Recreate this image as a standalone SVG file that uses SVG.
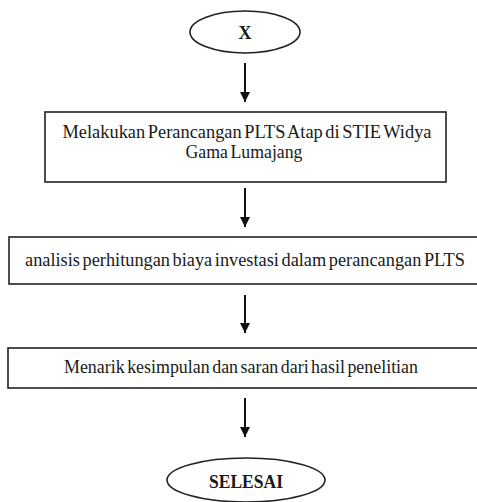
<svg xmlns="http://www.w3.org/2000/svg" width="477" height="502" viewBox="0 0 477 502">
<defs>
<style>
.shape{fill:#fff;stroke:#222;stroke-width:1.6}
.t{font-family:"Liberation Serif","Times New Roman",serif;font-size:18px;fill:#1a1a1a;text-anchor:middle;word-spacing:-2px}
.b{font-weight:bold}
.conn{stroke:#111;stroke-width:2;fill:none}
</style>
<marker id="ah" viewBox="0 0 10 10" refX="10" refY="5" markerWidth="5" markerHeight="5" markerUnits="strokeWidth" orient="auto">
<path d="M0,0 L10,5 L0,10 z" fill="#111"/>
</marker>
</defs>
<rect width="477" height="502" fill="#fff"/>
<g id="connectors">
<line class="conn" x1="245" y1="63" x2="245" y2="102" marker-end="url(#ah)"/>
<line class="conn" x1="245" y1="188" x2="245" y2="227" marker-end="url(#ah)"/>
<line class="conn" x1="245" y1="295" x2="245" y2="333" marker-end="url(#ah)"/>
<line class="conn" x1="245" y1="398" x2="245" y2="437" marker-end="url(#ah)"/>
</g>
<g id="start">
<ellipse class="shape" cx="245" cy="32" rx="55" ry="21"/>
<text class="t b" x="245" y="39" font-size="19">X</text>
</g>
<g id="step1">
<rect class="shape" x="45" y="112" width="401" height="70"/>
<text class="t" x="247" y="138" textLength="369" lengthAdjust="spacingAndGlyphs">Melakukan Perancangan PLTS Atap di STIE Widya</text>
<text class="t" x="244" y="158" textLength="117" lengthAdjust="spacingAndGlyphs">Gama Lumajang</text>
</g>
<g id="step2">
<rect class="shape" x="9" y="237" width="480" height="47"/>
<text class="t" x="245" y="266" textLength="440" lengthAdjust="spacingAndGlyphs">analisis perhitungan biaya investasi dalam perancangan PLTS</text>
</g>
<g id="step3">
<rect class="shape" x="8" y="348" width="480" height="40"/>
<text class="t" x="241" y="373" textLength="354" lengthAdjust="spacingAndGlyphs">Menarik kesimpulan dan saran dari hasil penelitian</text>
</g>
<g id="end">
<ellipse class="shape" cx="246" cy="480" rx="79" ry="22"/>
<text class="t b" x="246" y="488" font-size="19" textLength="74" lengthAdjust="spacingAndGlyphs">SELESAI</text>
</g>
</svg>
